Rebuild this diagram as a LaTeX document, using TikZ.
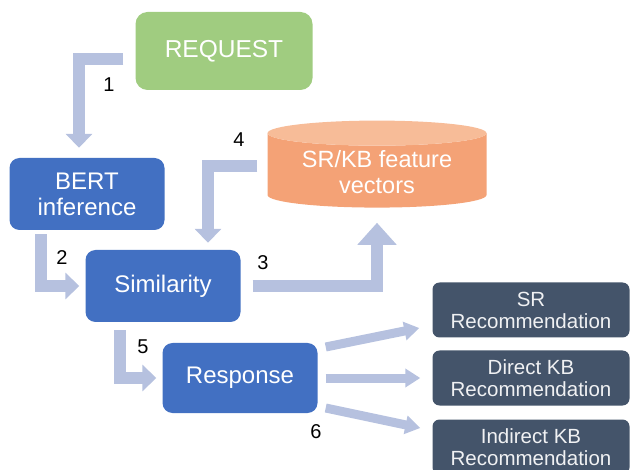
\documentclass[tikz,border=0pt]{standalone}
\usepackage{fontspec}
\setmainfont{Liberation Sans}
\usepackage{xcolor}
\usetikzlibrary{shapes.geometric,arrows.meta}

\definecolor{reqgreen}{RGB}{160,204,128}
\definecolor{stepblue}{RGB}{66,112,194}
\definecolor{recslate}{RGB}{68,84,106}
\definecolor{dbbody}{RGB}{244,162,118}
\definecolor{dbtop}{RGB}{247,188,152}
\definecolor{flowc}{RGB}{182,193,223}

\tikzset{
  reqbox/.style={rectangle, rounded corners=12pt, fill=reqgreen, text=white,
    minimum width=177pt, minimum height=78pt, font=\fontsize{24.5}{27}\selectfont},
  stepbox/.style={rectangle, rounded corners=10pt, fill=stepblue, text=white, align=center,
    minimum width=155pt, minimum height=72pt, font=\fontsize{24}{26}\selectfont},
  recbox/.style={rectangle, rounded corners=7pt, fill=recslate, text=white!92!recslate, align=center,
    minimum width=197pt, minimum height=55pt, font=\fontsize{20.5}{22}\selectfont},
  flow/.style={draw=flowc, line width=12pt, -{Triangle[width=26pt,length=14pt]}},
  thin flow/.style={draw=flowc, line width=9pt, -{Triangle[width=18pt,length=15pt]}},
  num/.style={font=\fontsize{20}{24}\selectfont}
}

\begin{document}
\begin{tikzpicture}[x=1pt,y=-1pt]
            \useasboundingbox (0,0) rectangle (632,470);
            \node [reqbox] (req) at (224,51) {REQUEST};
            \node [stepbox] (bert) at (87,194) {BERT\\inference};
            \node [stepbox] (sim) at (163,286) {Similarity};
            \node [stepbox, minimum height=70pt] (resp) at (240,378) {Response};
            \node [cylinder, shape border rotate=90, aspect=0.16, cylinder uses custom fill,
                   cylinder body fill=dbbody, cylinder end fill=dbtop, text=white, align=center,
                   minimum width=219pt, minimum height=87pt, font=\fontsize{23.5}{26}\selectfont]
                   (db) at (377,172) {SR/KB feature\\vectors};
            \node [recbox] (sr) at (531,310) {SR\\Recommendation};
            \node [recbox] (dkb) at (531,378) {Direct KB\\Recommendation};
            \node [recbox] (ikb) at (531,447) {Indirect KB\\Recommendation};
            \draw [flow, shorten <=12pt, shorten >=10pt] ([yshift=-8pt]req.west) -| ([xshift=-8pt]bert.north);
            \draw [flow, shorten <=4pt, shorten >=6pt] ([xshift=-46pt]bert.south) |- (sim.west);
            \draw [flow, -{Triangle[width=38pt,length=22pt]}, shorten <=12pt, shorten >=15pt] (sim.east) -| (db.south);
            \draw [flow, shorten <=10pt, shorten >=7pt] ([yshift=6pt]db.west) -| ([xshift=45pt]sim.north);
            \draw [flow, shorten <=8pt, shorten >=6pt] ([xshift=-43pt]sim.south) |- (resp.west);
            \draw [thin flow] ([shift={(8pt,31pt)}]resp.east) -- ([shift={(-13pt,-18pt)}]sr.west);
            \draw [thin flow, shorten <=8pt, shorten >=12pt] (resp.east) -- (dkb.west);
            \draw [thin flow] ([shift={(8pt,-30pt)}]resp.east) -- ([shift={(-12pt,19pt)}]ikb.west);
            \node [num] (n1) at (109,85) {1};
            \node [num] (n2) at (62,258) {2};
            \node [num] (n3) at (263,263) {3};
            \node [num] (n4) at (239,140) {4};
            \node [num] (n5) at (143,347) {5};
            \node [num] (n6) at (316,432) {6};
\end{tikzpicture}
\end{document}
